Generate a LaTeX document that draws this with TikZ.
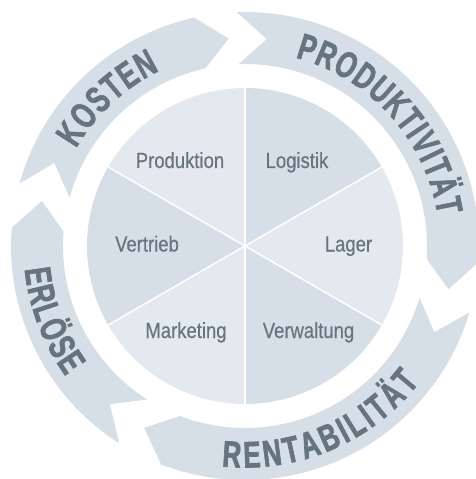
\documentclass[tikz,border=0pt]{standalone}
\usepackage{fontspec}
\setmainfont{Liberation Sans}
\newfontfamily\labelfont[FakeStretch=0.84, FakeBold=0.4]{Liberation Sans}
\newfontfamily\ringfont[FakeStretch=0.7, FakeBold=1.8]{Liberation Sans Bold}
\usetikzlibrary{decorations.text}
\definecolor{bandblue}{RGB}{214,223,231}
\definecolor{pielight}{RGB}{228,233,239}
\definecolor{labelgray}{RGB}{102,117,125}
\tikzset{pielabel/.style={font=\labelfont\fontsize{22}{22}\selectfont, text=labelgray, inner sep=0pt, anchor=base}}
% one arrow of the ring: tail angle, head angle
\def\ringarrow(#1:#2){\fill[bandblue] (#1:234) arc[start angle=#1, end angle=#2, radius=234] -- ({#2-8}:208) -- (#2:182) arc[start angle=#2, end angle=#1, radius=182] -- ({#1-8}:208) -- cycle;}
% bent label: text, from angle, to angle, baseline radius
\def\ringtext[#1](#2:#3:#4){\path[decorate, decoration={text along path, text align=fit to path, text={|\ringfont\fontsize{37}{37}\selectfont\color{labelgray}|#1}}] (#2:#4) arc[start angle=#2, end angle=#3, radius=#4];}

\begin{document}
\begin{tikzpicture}[x=1pt, y=1pt]
		%%%%% START %%%%%
		\useasboundingbox (-245,-233) rectangle (231,246);
		
		% pie
		\foreach \a/\col in {90/pielight, 30/bandblue, -30/pielight, -90/bandblue, -150/pielight, 150/bandblue}
			\fill[\col] (0,0) -- (\a:158) arc[start angle=\a, end angle=\a+60, radius=158] -- cycle;
		\foreach \a in {30,90,...,330}
			\draw[white, line width=1.5pt] (0,0) -- (\a:158);
		
		\node[pielabel] (produktion) at (-65,78) {Produktion};
		\node[pielabel] (logistik) at (52,78) {Logistik};
		\node[pielabel] (vertrieb) at (-98,-5.5) {Vertrieb};
		\node[pielabel] (lager) at (103.5,-5.5) {Lager};
		\node[pielabel] (marketing) at (-59,-92) {Marketing};
		\node[pielabel] (verwaltung) at (63.5,-92) {Verwaltung};
		
		% ring
		\ringarrow(164.5:102.5)
		\ringarrow(92:-4)
		\ringarrow(-16.5:-111)
		\ringarrow(-122.5:-184.5)
		
		\ringtext[KOSTEN](150:116:195)
		\ringtext[PRODUKTIVITÄT](75:9:195)
		\ringtext[RENTABILITÄT](-96:-38:221.5)
		\ringtext[ERLÖSE](186:216:221.5)
		
		%%%%% END %%%%%
	\end{tikzpicture}
\end{document}
